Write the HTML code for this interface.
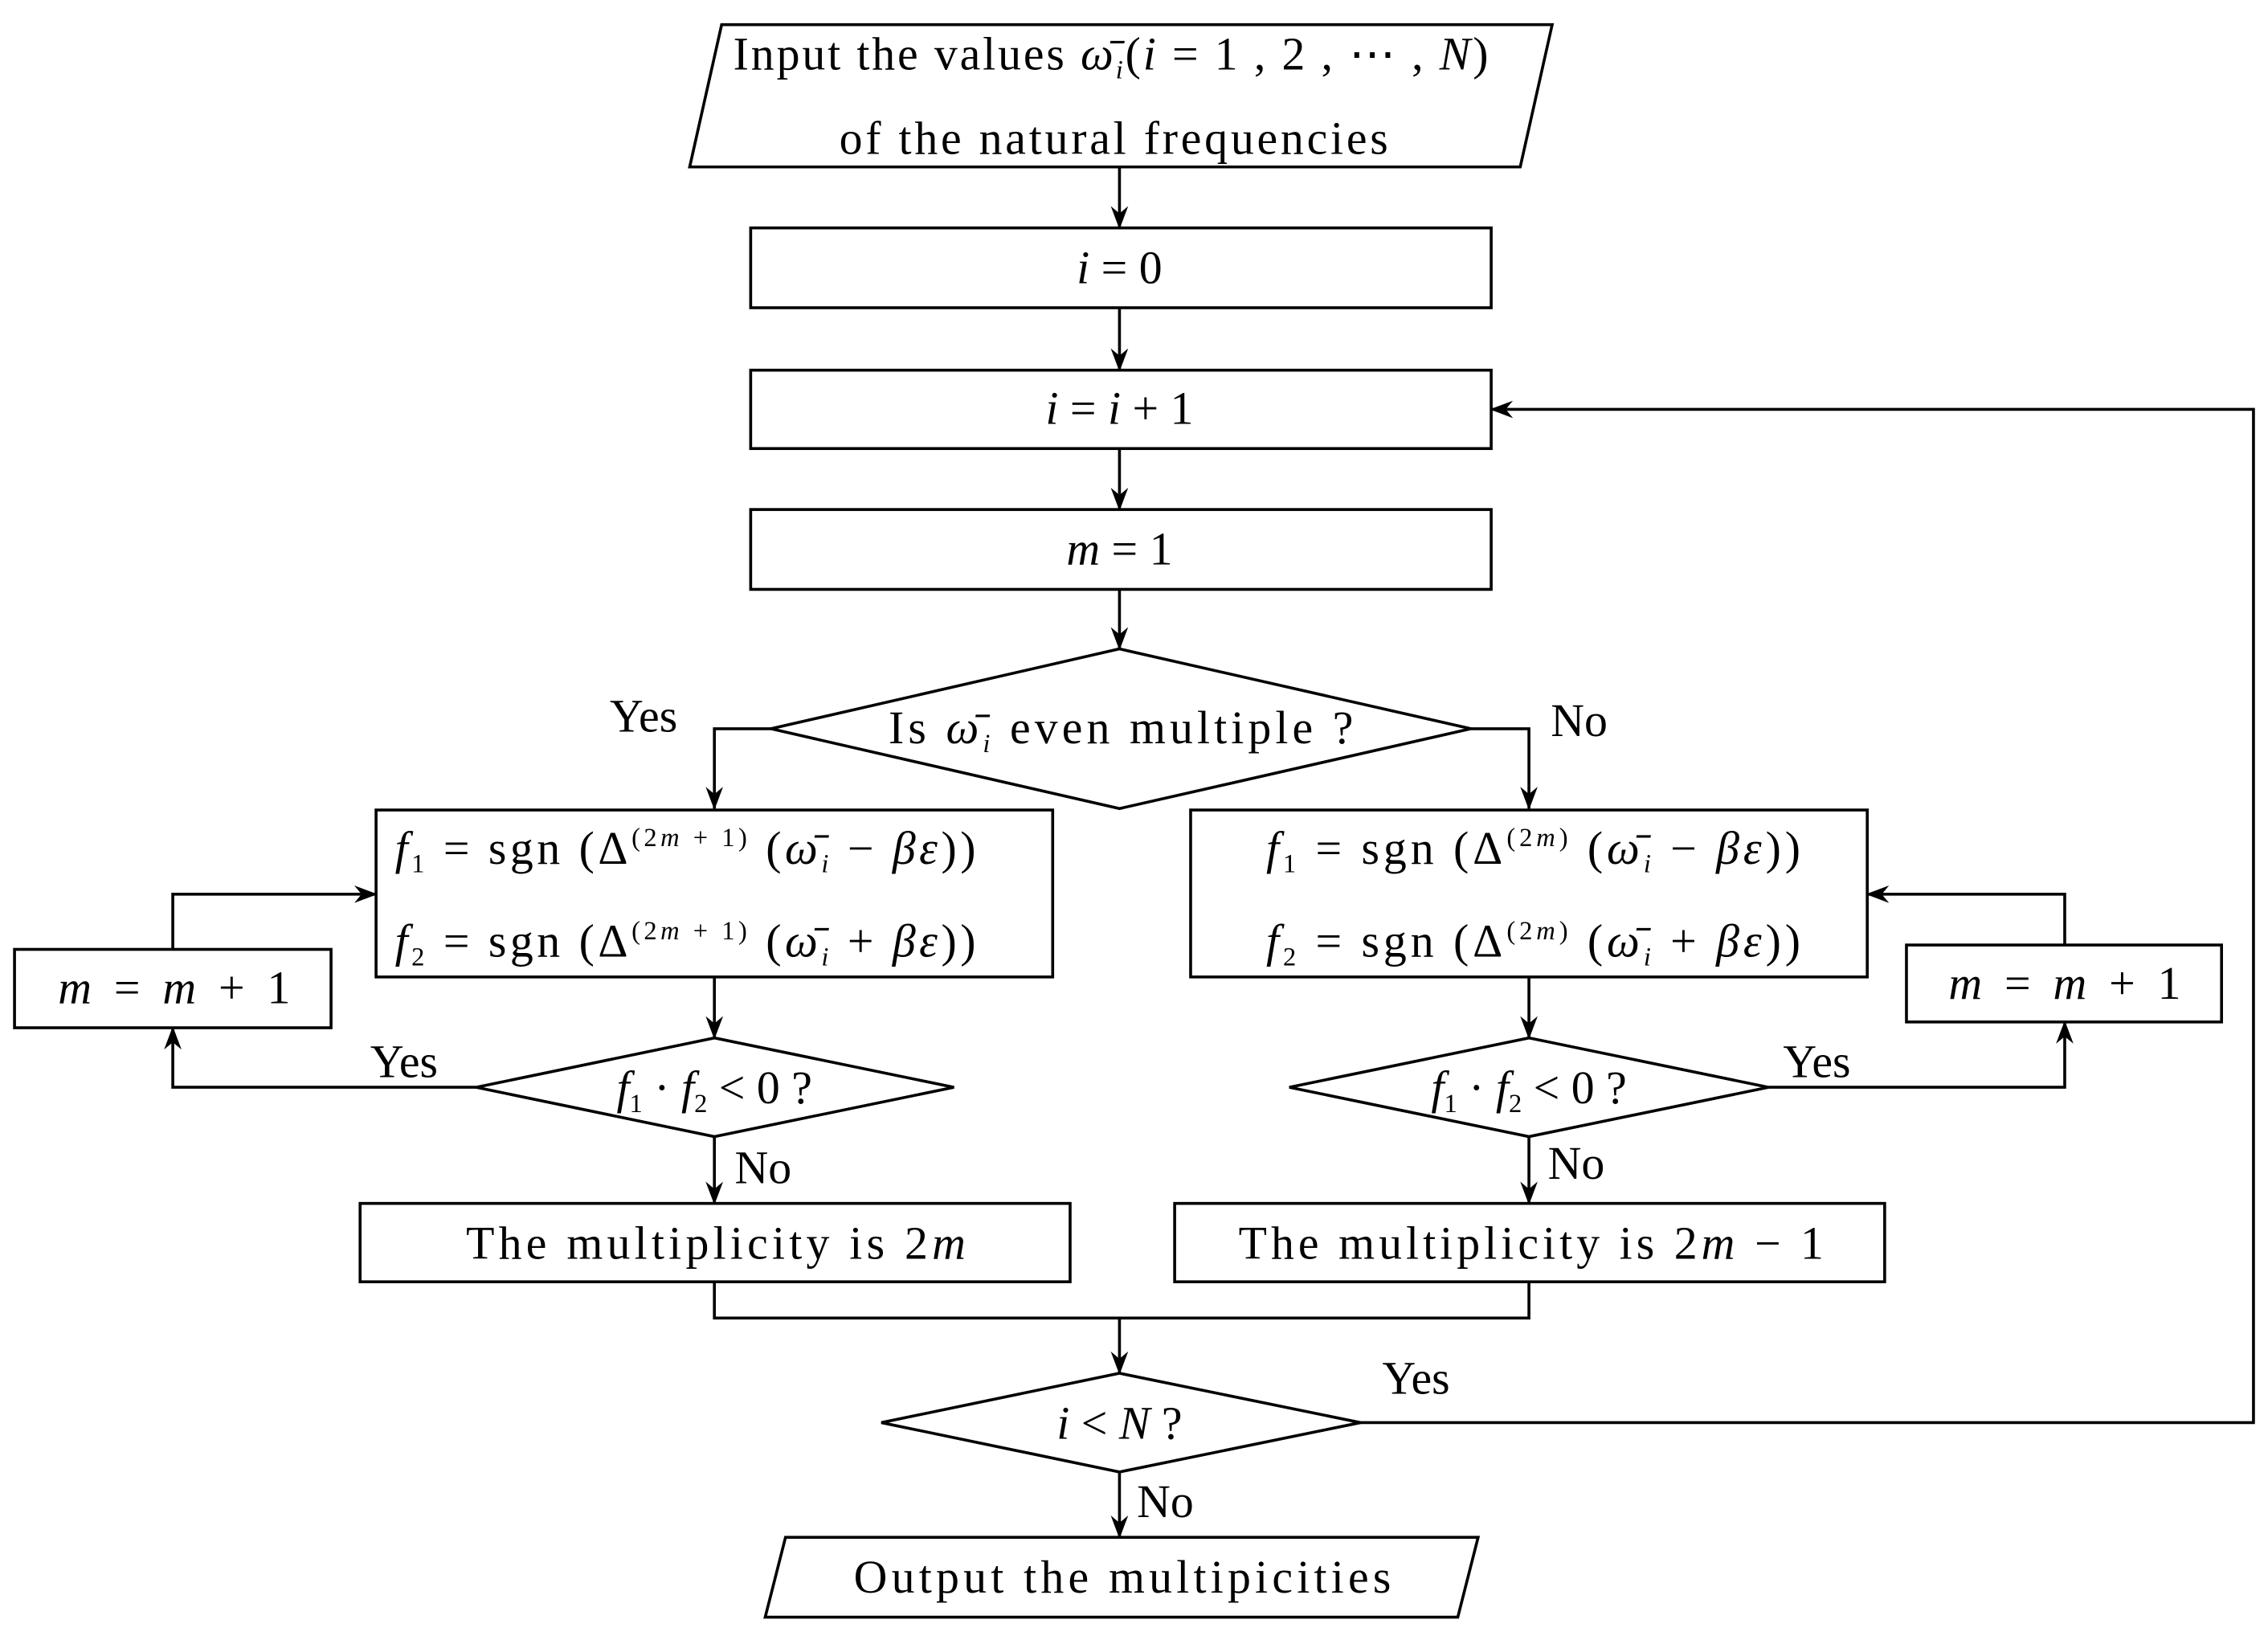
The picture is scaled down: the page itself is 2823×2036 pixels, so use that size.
<!DOCTYPE html>
<html><head><meta charset="utf-8"><style>
html,body{margin:0;padding:0;background:#fff;}
svg{display:block;}
text{font-family:"Liberation Serif",serif;font-size:32px;fill:#000;}
.i{font-style:italic;}
</style></head><body>
<svg width="2823" height="2036" viewBox="0 0 1562 1127" preserveAspectRatio="none" xmlns="http://www.w3.org/2000/svg">
<defs><marker id="a" markerWidth="16" markerHeight="12" refX="15" refY="6" orient="auto" markerUnits="userSpaceOnUse"><path d="M0,0 L16,6 L0,12 L5,6 Z" fill="#000"/></marker></defs>
<g fill="none" stroke="#000" stroke-width="2">
<polygon points="497,17 1069,17 1047,115 475,115"/>
<rect x="517" y="157" width="510" height="55"/>
<rect x="517" y="255" width="510" height="54"/>
<rect x="517" y="351" width="510" height="55"/>
<polygon points="771,447 1013,502 771,557 531,502"/>
<rect x="259" y="558" width="466" height="115"/>
<rect x="820" y="558" width="466" height="115"/>
<polygon points="492,715 657,749 492,783 328,749"/>
<polygon points="1053,715 1218,749 1053,783 888,749"/>
<rect x="10" y="654" width="218" height="54"/>
<rect x="1313" y="651" width="217" height="53"/>
<rect x="248" y="829" width="489" height="54"/>
<rect x="809" y="829" width="489" height="54"/>
<polygon points="771,946 937,980 771,1014 607,980"/>
<polygon points="541,1059 1018,1059 1004,1114 527,1114"/>
<g marker-end="url(#a)">
<path d="M771,115 V157"/><path d="M771,212 V255"/><path d="M771,309 V351"/><path d="M771,406 V447"/>
<path d="M531,502 H492 V557"/><path d="M1013,502 H1053 V557"/>
<path d="M492,673 V715"/><path d="M1053,673 V715"/>
<path d="M328,749 H119 V708"/><path d="M119,654 V616 H259"/>
<path d="M1218,749 H1422 V704"/><path d="M1422,651 V616 H1286"/>
<path d="M492,783 V829"/><path d="M1053,783 V829"/>
<path d="M771,908 V946"/>
<path d="M937,980 H1552 V282 H1027"/>
<path d="M771,1014 V1059"/>
</g>
<path d="M492,883 V908 H1053 V883"/>
</g>
<text x="505" y="48" textLength="520" lengthAdjust="spacing">Input the values <tspan class="i">ω̄</tspan><tspan class="i" font-size="18" dy="6">i</tspan><tspan dy="-6">(</tspan><tspan class="i">i</tspan> = 1 , 2 , ⋯ , <tspan class="i">N</tspan>)</text>
<text x="578" y="106" textLength="378" lengthAdjust="spacing">of the natural frequencies</text>
<text x="771" y="195" text-anchor="middle"><tspan class="i">i</tspan> = 0</text>
<text x="771" y="292" text-anchor="middle"><tspan class="i">i</tspan> = <tspan class="i">i</tspan> + 1</text>
<text x="771" y="389" text-anchor="middle"><tspan class="i">m</tspan> = 1</text>
<text x="612" y="512" textLength="320" lengthAdjust="spacing">Is <tspan class="i">ω̄</tspan><tspan class="i" font-size="18" dy="6">i</tspan><tspan dy="-6"> even multiple ?</tspan></text>
<text x="420" y="504">Yes</text>
<text x="1068" y="507">No</text>
<text x="272" y="595" textLength="400" lengthAdjust="spacing"><tspan class="i">f</tspan><tspan font-size="18" dy="6">1</tspan><tspan dy="-6"> = sgn (Δ</tspan><tspan font-size="18" dy="-12">(2<tspan class="i">m</tspan> + 1)</tspan><tspan dy="12"> (</tspan><tspan class="i">ω̄</tspan><tspan class="i" font-size="18" dy="6">i</tspan><tspan dy="-6"> − </tspan><tspan class="i">βε</tspan>))</text>
<text x="272" y="659" textLength="400" lengthAdjust="spacing"><tspan class="i">f</tspan><tspan font-size="18" dy="6">2</tspan><tspan dy="-6"> = sgn (Δ</tspan><tspan font-size="18" dy="-12">(2<tspan class="i">m</tspan> + 1)</tspan><tspan dy="12"> (</tspan><tspan class="i">ω̄</tspan><tspan class="i" font-size="18" dy="6">i</tspan><tspan dy="-6"> + </tspan><tspan class="i">βε</tspan>))</text>
<text x="872" y="595" textLength="368" lengthAdjust="spacing"><tspan class="i">f</tspan><tspan font-size="18" dy="6">1</tspan><tspan dy="-6"> = sgn (Δ</tspan><tspan font-size="18" dy="-12">(2<tspan class="i">m</tspan>)</tspan><tspan dy="12"> (</tspan><tspan class="i">ω̄</tspan><tspan class="i" font-size="18" dy="6">i</tspan><tspan dy="-6"> − </tspan><tspan class="i">βε</tspan>))</text>
<text x="872" y="659" textLength="368" lengthAdjust="spacing"><tspan class="i">f</tspan><tspan font-size="18" dy="6">2</tspan><tspan dy="-6"> = sgn (Δ</tspan><tspan font-size="18" dy="-12">(2<tspan class="i">m</tspan>)</tspan><tspan dy="12"> (</tspan><tspan class="i">ω̄</tspan><tspan class="i" font-size="18" dy="6">i</tspan><tspan dy="-6"> + </tspan><tspan class="i">βε</tspan>))</text>
<text x="40" y="691" textLength="160" lengthAdjust="spacing"><tspan class="i">m</tspan> = <tspan class="i">m</tspan> + 1</text>
<text x="1342" y="688" textLength="160" lengthAdjust="spacing"><tspan class="i">m</tspan> = <tspan class="i">m</tspan> + 1</text>
<text x="492" y="760" text-anchor="middle"><tspan class="i">f</tspan><tspan font-size="18" dy="6">1</tspan><tspan dy="-6"> · </tspan><tspan class="i">f</tspan><tspan font-size="18" dy="6">2</tspan><tspan dy="-6"> &lt; 0 ?</tspan></text>
<text x="1053" y="760" text-anchor="middle"><tspan class="i">f</tspan><tspan font-size="18" dy="6">1</tspan><tspan dy="-6"> · </tspan><tspan class="i">f</tspan><tspan font-size="18" dy="6">2</tspan><tspan dy="-6"> &lt; 0 ?</tspan></text>
<text x="255" y="742">Yes</text>
<text x="1228" y="742">Yes</text>
<text x="506" y="815">No</text>
<text x="1066" y="812">No</text>
<text x="321" y="867" textLength="344" lengthAdjust="spacing">The multiplicity is 2<tspan class="i">m</tspan></text>
<text x="853" y="867" textLength="403" lengthAdjust="spacing">The multiplicity is 2<tspan class="i">m</tspan> − 1</text>
<text x="771" y="991" text-anchor="middle"><tspan class="i">i</tspan> &lt; <tspan class="i">N</tspan> ?</text>
<text x="952" y="960">Yes</text>
<text x="783" y="1045">No</text>
<text x="588" y="1097" textLength="370" lengthAdjust="spacing">Output the multipicities</text>
</svg>
</body></html>
